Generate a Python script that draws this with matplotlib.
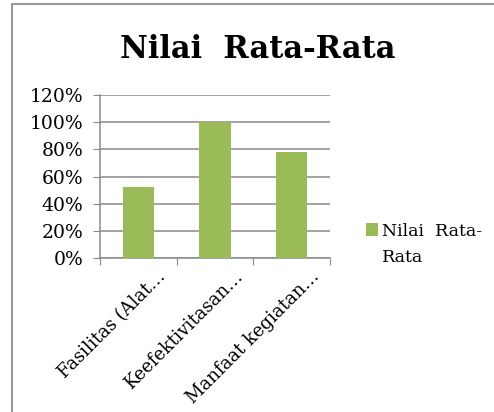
import matplotlib.pyplot as plt
from matplotlib.patches import Rectangle

plt.rcParams['font.family'] = ['DejaVu Serif']

categories = ['Fasilitas (Alat…', 'Keefektivitasan…', 'Manfaat kegiatan…']
values = [0.52, 1.00, 0.78]
yticks = [0, 0.2, 0.4, 0.6, 0.8, 1.0, 1.2]
ytick_labels = ['0%', '20%', '40%', '60%', '80%', '100%', '120%']
series_name = 'Nilai  Rata-'
series_name_wrap = 'Rata'

W, H = 494, 412
fig = plt.figure(figsize=(W / 100, H / 100), dpi=100)

# outer chart frame (cut at right/bottom like the screenshot)
fig.patches.append(Rectangle((12 / W, -0.05), 1.2, 1 - 4 / H + 0.05,
                             transform=fig.transFigure, fill=False,
                             edgecolor='#9a9a9a', linewidth=1.5))

ax = fig.add_axes([100 / W, 1 - 258 / H, 230 / W, 163 / H])

x = list(range(len(categories)))
ax.bar(x, values, width=0.41, color='#9BBB59', label=series_name, zorder=3)

ax.set_xlim(-0.5, len(categories) - 0.5)
ax.set_ylim(0, 1.2)
ax.set_yticks(yticks)
ax.set_yticklabels(ytick_labels, fontsize=13.5)
ax.yaxis.grid(True, color='#8a8a8a', linewidth=1.1, zorder=0)

ax.set_xticks([i - 0.5 for i in range(len(categories) + 1)])
ax.set_xticklabels([])
ax.tick_params(axis='x', direction='out', length=5, color='#8a8a8a')
ax.tick_params(axis='y', direction='out', length=5, color='#8a8a8a', pad=7)

for i, lab in enumerate(categories):
    ax.text(i + 0.24, -0.07, lab, rotation=45, ha='right', va='top',
            rotation_mode='anchor', fontsize=13, transform=ax.transData)

for s in ['top', 'right']:
    ax.spines[s].set_visible(False)
for s in ['left', 'bottom']:
    ax.spines[s].set_color('#8a8a8a')
    ax.spines[s].set_linewidth(1.1)

fig.text(258 / W, 1 - 50 / H, 'Nilai  Rata-Rata', ha='center', va='center',
         fontsize=22, fontweight='bold')

leg = fig.legend(loc='center left', bbox_to_anchor=(359 / W, 1 - 231 / H),
                 frameon=False, fontsize=12.5, handlelength=0.7, handleheight=0.7,
                 handletextpad=0.25, borderaxespad=0)
# second line of the wrapped legend label
fig.text(382 / W, 1 - 258 / H, series_name_wrap, ha='left', va='center', fontsize=12.5)

fig.savefig('out.png', dpi=100)
